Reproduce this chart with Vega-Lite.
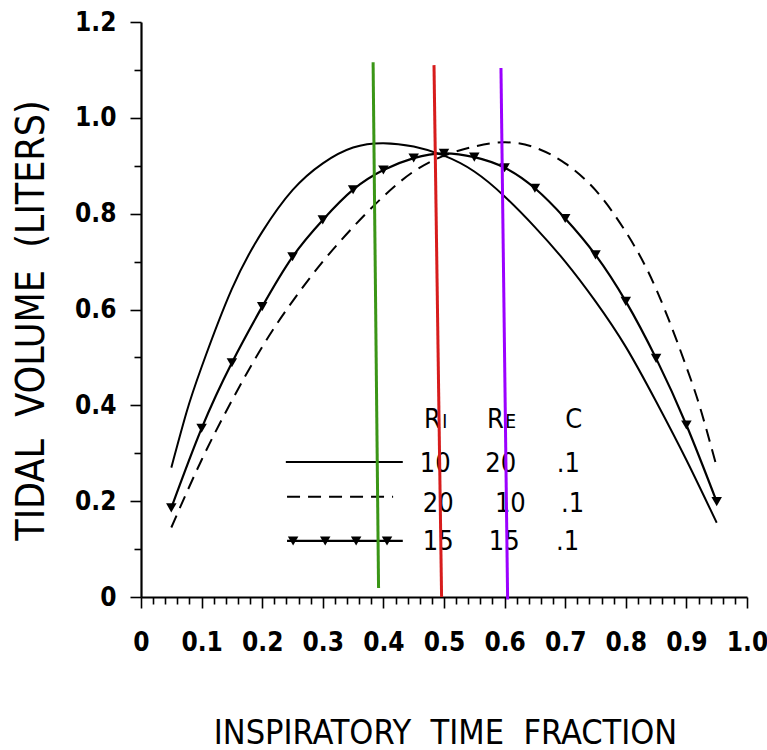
{
  "$schema": "https://vega.github.io/schema/vega-lite/v6.json",
  "width": 606,
  "height": 575,
  "autosize": {"type": "none"},
  "padding": {"left": 141, "top": 22, "right": 20, "bottom": 153},
  "background": "white",
  "config": {
    "view": {"stroke": null},
    "font": "DejaVu Sans Condensed, DejaVu Sans",
    "axis": {
      "domainColor": "black",
      "domainWidth": 2.2,
      "tickColor": "black",
      "tickWidth": 1.6,
      "grid": false,
      "labelColor": "black",
      "labelFont": "DejaVu Sans Condensed, DejaVu Sans",
      "labelFontSize": 26,
      "labelFontWeight": "bold",
      "titleColor": "black",
      "titleFont": "DejaVu Sans Condensed, DejaVu Sans",
      "titleFontWeight": "normal",
      "labelOverlap": false,
      "labelFlush": false
    }
  },
  "datasets": {
    "curves": [
      {"g": "a", "x": 0.05, "y": 0.27},
      {"g": "a", "x": 0.075, "y": 0.385},
      {"g": "a", "x": 0.1, "y": 0.48},
      {"g": "a", "x": 0.15, "y": 0.643},
      {"g": "a", "x": 0.2, "y": 0.762},
      {"g": "a", "x": 0.25, "y": 0.849},
      {"g": "a", "x": 0.3, "y": 0.905},
      {"g": "a", "x": 0.35, "y": 0.938},
      {"g": "a", "x": 0.4, "y": 0.947},
      {"g": "a", "x": 0.45, "y": 0.94},
      {"g": "a", "x": 0.5, "y": 0.921},
      {"g": "a", "x": 0.55, "y": 0.888},
      {"g": "a", "x": 0.6, "y": 0.836},
      {"g": "a", "x": 0.65, "y": 0.772},
      {"g": "a", "x": 0.7, "y": 0.7},
      {"g": "a", "x": 0.75, "y": 0.617},
      {"g": "a", "x": 0.8, "y": 0.522},
      {"g": "a", "x": 0.85, "y": 0.408},
      {"g": "a", "x": 0.9, "y": 0.286},
      {"g": "a", "x": 0.95, "y": 0.155},
      {"g": "aL", "x": 0.239, "y": 0.282},
      {"g": "aL", "x": 0.432, "y": 0.282},
      {"g": "b", "x": 0.05, "y": 0.145},
      {"g": "b", "x": 0.1, "y": 0.286},
      {"g": "b", "x": 0.15, "y": 0.41},
      {"g": "b", "x": 0.2, "y": 0.522},
      {"g": "b", "x": 0.25, "y": 0.617},
      {"g": "b", "x": 0.3, "y": 0.7},
      {"g": "b", "x": 0.35, "y": 0.772},
      {"g": "b", "x": 0.4, "y": 0.836},
      {"g": "b", "x": 0.45, "y": 0.888},
      {"g": "b", "x": 0.5, "y": 0.921},
      {"g": "b", "x": 0.55, "y": 0.94},
      {"g": "b", "x": 0.6, "y": 0.949},
      {"g": "b", "x": 0.65, "y": 0.938},
      {"g": "b", "x": 0.7, "y": 0.905},
      {"g": "b", "x": 0.75, "y": 0.849},
      {"g": "b", "x": 0.8, "y": 0.762},
      {"g": "b", "x": 0.85, "y": 0.643},
      {"g": "b", "x": 0.9, "y": 0.48},
      {"g": "b", "x": 0.925, "y": 0.385},
      {"g": "b", "x": 0.95, "y": 0.272},
      {"g": "bL", "x": 0.241, "y": 0.209},
      {"g": "bL", "x": 0.416, "y": 0.209},
      {"g": "c", "x": 0.05, "y": 0.186},
      {"g": "c", "x": 0.1, "y": 0.352},
      {"g": "c", "x": 0.15, "y": 0.489},
      {"g": "c", "x": 0.2, "y": 0.606},
      {"g": "c", "x": 0.25, "y": 0.71},
      {"g": "c", "x": 0.3, "y": 0.787},
      {"g": "c", "x": 0.35, "y": 0.85},
      {"g": "c", "x": 0.4, "y": 0.891},
      {"g": "c", "x": 0.45, "y": 0.916},
      {"g": "c", "x": 0.5, "y": 0.926},
      {"g": "c", "x": 0.55, "y": 0.918},
      {"g": "c", "x": 0.6, "y": 0.896},
      {"g": "c", "x": 0.65, "y": 0.853},
      {"g": "c", "x": 0.7, "y": 0.79},
      {"g": "c", "x": 0.75, "y": 0.714},
      {"g": "c", "x": 0.8, "y": 0.617},
      {"g": "c", "x": 0.85, "y": 0.498},
      {"g": "c", "x": 0.9, "y": 0.359},
      {"g": "c", "x": 0.95, "y": 0.199},
      {"g": "cL", "x": 0.241, "y": 0.117},
      {"g": "cL", "x": 0.432, "y": 0.117},
      {"g": "cP", "x": 0.251, "y": 0.117},
      {"g": "cP", "x": 0.304, "y": 0.117},
      {"g": "cP", "x": 0.355, "y": 0.117},
      {"g": "cP", "x": 0.406, "y": 0.117}
    ],
    "vlines": [
      {"v": "green", "x": 0.383, "y": 1.116},
      {"v": "green", "x": 0.392, "y": 0.019},
      {"v": "red", "x": 0.4835, "y": 1.11},
      {"v": "red", "x": 0.496, "y": 0.0},
      {"v": "purple", "x": 0.594, "y": 1.104},
      {"v": "purple", "x": 0.605, "y": -0.005}
    ],
    "labels": [
      {"k": "big", "t": "R", "x": 0.467, "y": 0.353},
      {"k": "sub", "t": "I", "x": 0.497, "y": 0.353},
      {"k": "big", "t": "R", "x": 0.571, "y": 0.353},
      {"k": "sub", "t": "E", "x": 0.601, "y": 0.353},
      {"k": "big", "t": "C", "x": 0.7, "y": 0.353},
      {"k": "big", "t": "10", "x": 0.46, "y": 0.261},
      {"k": "big", "t": "20", "x": 0.568, "y": 0.261},
      {"k": "big", "t": ".1", "x": 0.686, "y": 0.261},
      {"k": "big", "t": "20", "x": 0.465, "y": 0.177},
      {"k": "big", "t": "10", "x": 0.584, "y": 0.177},
      {"k": "big", "t": ".1", "x": 0.693, "y": 0.177},
      {"k": "big", "t": "15", "x": 0.465, "y": 0.098},
      {"k": "big", "t": "15", "x": 0.574, "y": 0.098},
      {"k": "big", "t": ".1", "x": 0.685, "y": 0.098}
    ]
  },
  "encoding": {
    "x": {
      "field": "x",
      "type": "quantitative",
      "scale": {"domain": [0, 1], "nice": false, "zero": false},
      "axis": {
        "title": "INSPIRATORY\u00a0 TIME\u00a0 FRACTION",
        "values": [0, 0.02, 0.04, 0.06, 0.08, 0.1, 0.12, 0.14, 0.16, 0.18, 0.2, 0.22, 0.24, 0.26, 0.28, 0.3, 0.32, 0.34, 0.36, 0.38, 0.4, 0.42, 0.44, 0.46, 0.48, 0.5, 0.52, 0.54, 0.56, 0.58, 0.6, 0.62, 0.64, 0.66, 0.68, 0.7, 0.72, 0.74, 0.76, 0.78, 0.8, 0.82, 0.84, 0.86, 0.88, 0.9, 0.92, 0.94, 0.96, 0.98, 1.0],
        "labelExpr": "abs(datum.value*10 - round(datum.value*10)) < 0.001 ? (datum.value == 0 ? '0' : format(datum.value, '.1f')) : ''",
        "tickSize": {"condition": {"test": "abs(datum.value*10 - round(datum.value*10)) < 0.001", "value": 11}, "value": 7},
        "labelBaseline": "alphabetic",
        "labelPadding": 42,
        "titleFontSize": 34,
        "titleX": 304,
        "titleY": 146,
        "titleAlign": "center",
        "titleBaseline": "alphabetic"
      }
    },
    "y": {
      "field": "y",
      "type": "quantitative",
      "scale": {"domain": [0, 1.2], "nice": false, "zero": false},
      "axis": {
        "title": "TIDAL\u00a0 VOLUME\u00a0 (LITERS)",
        "values": [0, 0.1, 0.2, 0.3, 0.4, 0.5, 0.6, 0.7, 0.8, 0.9, 1.0, 1.1, 1.2],
        "labelExpr": "round(datum.value*10) % 2 == 0 ? (datum.value == 0 ? '0' : format(datum.value, '.1f')) : ''",
        "tickSize": {"condition": {"test": "round(datum.value*10) % 2 == 0", "value": 11}, "value": 7},
        "labelPadding": 14,
        "titleFontSize": 39,
        "titleAngle": -90,
        "titleX": -98,
        "titleY": 298,
        "titleAlign": "center",
        "titleBaseline": "alphabetic"
      }
    }
  },
  "layer": [
    {
      "data": {"name": "curves"},
      "transform": [{"filter": "datum.g == 'a' || datum.g == 'aL'"}],
      "mark": {"type": "line", "color": "black", "strokeWidth": 2, "interpolate": "natural"},
      "encoding": {"detail": {"field": "g"}}
    },
    {
      "data": {"name": "curves"},
      "transform": [{"filter": "datum.g == 'b' || datum.g == 'bL'"}],
      "mark": {"type": "line", "color": "black", "strokeWidth": 2, "strokeDash": [13, 8], "interpolate": "natural"},
      "encoding": {"detail": {"field": "g"}}
    },
    {
      "data": {"name": "curves"},
      "transform": [{"filter": "datum.g == 'c' || datum.g == 'cL'"}],
      "mark": {"type": "line", "color": "black", "strokeWidth": 2.2, "interpolate": "natural"},
      "encoding": {"detail": {"field": "g"}}
    },
    {
      "data": {"name": "curves"},
      "transform": [{"filter": "datum.g == 'c' || datum.g == 'cP'"}],
      "mark": {"type": "point", "shape": "triangle-down", "filled": true, "color": "black", "opacity": 1, "size": 110}
    },
    {
      "data": {"name": "labels"},
      "transform": [{"filter": "datum.k == 'big'"}],
      "mark": {"type": "text", "align": "left", "baseline": "alphabetic", "fontSize": 27, "color": "black"},
      "encoding": {"text": {"field": "t"}}
    },
    {
      "data": {"name": "labels"},
      "transform": [{"filter": "datum.k == 'sub'"}],
      "mark": {"type": "text", "align": "left", "baseline": "alphabetic", "fontSize": 19, "color": "black"},
      "encoding": {"text": {"field": "t"}}
    },
    {
      "data": {"name": "vlines"},
      "mark": {"type": "line", "strokeWidth": 3, "clip": false},
      "encoding": {
        "detail": {"field": "v"},
        "color": {"field": "v", "type": "nominal", "scale": {"domain": ["green", "red", "purple"], "range": ["#3a9616", "#d71c1c", "#9b00ff"]}, "legend": null}
      }
    }
  ]
}
